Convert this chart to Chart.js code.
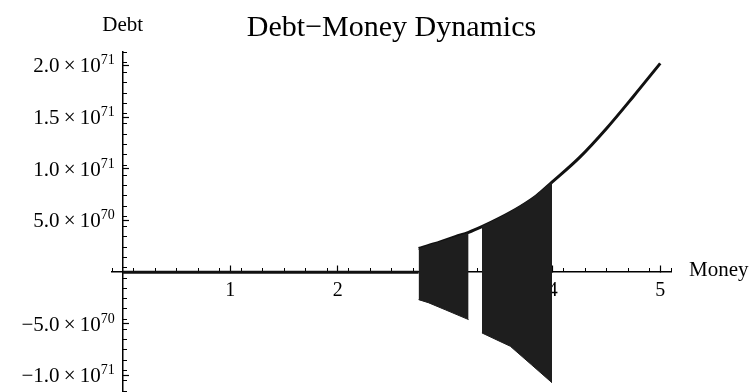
<!DOCTYPE html>
<html>
<head>
<meta charset="utf-8">
<title>Debt−Money Dynamics</title>
<script src="https://cdn.jsdelivr.net/npm/chart.js@4.4.1/dist/chart.umd.min.js"></script>
<style>
  html, body { margin: 0; padding: 0; background: #fff; }
  #wrap { width: 754px; height: 392px; }
</style>
</head>
<body>
<div id="wrap"><canvas id="chart-debt-money"></canvas></div>
<script>
// flat part of the trajectory, sitting on the axis
const moneyFlat = [0, 0.5, 1, 1.5, 2, 2.5, 2.752];
const debtFlat = [0, 0, 0, 0, 0, 0, 0];

// upper envelope of the oscillation
const moneyUpper = [2.752, 2.9, 3.0, 3.1, 3.217, 3.341, 3.5, 3.7, 3.85, 3.993, 4.25, 4.5, 4.75, 5.0];
const debtUpper = [2.3e70, 2.75e70, 3.1e70, 3.45e70, 3.85e70, 4.4e70, 5.2e70, 6.35e70, 7.4e70, 8.7e70, 1.11e71, 1.39e71, 1.70e71, 2.02e71];

// first dense band
const moneyBand1 = [2.752, 2.842, 3.0, 3.217];
const debtBand1Top = [2.2e70, 2.55e70, 3.05e70, 3.75e70];
const debtBand1Bottom = [-2.66e70, -2.95e70, -3.64e70, -4.59e70];

// second dense band
const moneyBand2 = [3.341, 3.5, 3.605, 3.8, 3.993];
const debtBand2Top = [4.4e70, 5.2e70, 5.8e70, 7.05e70, 8.7e70];
const debtBand2Bottom = [-5.88e70, -6.66e70, -7.17e70, -8.94e70, -1.07e71];

// axis ticks
const xTickValues = [1, 2, 3, 4, 5];
const xTickLabels = ["1", "2", "3", "4", "5"];
const yTickValues = [-1.0e71, -5.0e70, 5.0e70, 1.0e71, 1.5e71, 2.0e71];
const yTickMantissas = ["−1.0", "−5.0", "5.0", "1.0", "1.5", "2.0"];
const yTickExponents = ["71", "70", "70", "71", "71", "71"];

const X_MIN = -0.1;
const X_MAX = 5.1;
const Y_MIN = -1.15e71;
const Y_MAX = 2.13e71;

const SERIF = "'Liberation Serif', 'Times New Roman', serif";
const INK = "#000";
const BAND = "#1e1e1e";

function toPoints(xs, ys) {
  return xs.map((x, i) => ({ x, y: ys[i] }));
}

// axes sit inside the plot, so their label padding must not shrink it
function dropPadding(scale) {
  scale.paddingLeft = 0;
  scale.paddingRight = 0;
  scale.paddingTop = 0;
  scale.paddingBottom = 0;
}

// y labels need a real superscript exponent, so they are drawn here
const axisLabels = {
  id: "axisLabels",
  afterDraw(chart) {
    const { ctx, scales } = chart;
    const x = scales.x;
    const y = scales.y;
    const axisX = x.getPixelForValue(0);
    ctx.save();
    ctx.fillStyle = INK;
    ctx.textBaseline = "alphabetic";
    ctx.textAlign = "left";

    y.ticks.forEach((tick, i) => {
      const py = y.getPixelForValue(tick.value);
      const base = `${yTickMantissas[i]}\u2009×\u200910`;
      ctx.font = `21px ${SERIF}`;
      const wBase = ctx.measureText(base).width;
      ctx.font = `14px ${SERIF}`;
      const wExp = ctx.measureText(yTickExponents[i]).width;
      const left = axisX - 8 - wBase - wExp;
      ctx.font = `21px ${SERIF}`;
      ctx.fillText(base, left, py + 7);
      ctx.font = `14px ${SERIF}`;
      ctx.fillText(yTickExponents[i], left + wBase, py - 1);
    });

    ctx.font = `21px ${SERIF}`;
    ctx.textBaseline = "middle";
    ctx.textAlign = "center";
    ctx.fillText("Debt", axisX, y.top - 27);
    ctx.textAlign = "left";
    ctx.fillText("Money", x.right + 18, y.getPixelForValue(0) - 2);
    ctx.restore();
  },
};

const bandStyle = {
  borderColor: BAND,
  backgroundColor: BAND,
  borderWidth: 1,
  pointRadius: 0,
  tension: 0,
};

const ctx = document.getElementById("chart-debt-money");
new Chart(ctx, {
  type: "line",
  data: {
    datasets: [
      {
        data: toPoints(moneyFlat, debtFlat),
        borderColor: "#111",
        borderWidth: 3,
        pointRadius: 0,
        fill: false,
      },
      { ...bandStyle, data: toPoints(moneyBand1, debtBand1Top), fill: "+1" },
      { ...bandStyle, data: toPoints(moneyBand1, debtBand1Bottom), fill: false },
      { ...bandStyle, data: toPoints(moneyBand2, debtBand2Top), fill: "+1" },
      { ...bandStyle, data: toPoints(moneyBand2, debtBand2Bottom), fill: false },
      {
        data: toPoints(moneyUpper, debtUpper),
        borderColor: "#111",
        borderWidth: 3,
        pointRadius: 0,
        cubicInterpolationMode: "monotone",
        fill: false,
      },
    ],
  },
  options: {
    responsive: true,
    maintainAspectRatio: false,
    animation: false,
    layout: {
      padding: { left: 112, right: 83, top: 0, bottom: 1 },
    },
    plugins: {
      legend: { display: false },
      tooltip: { enabled: false },
      title: {
        display: true,
        text: "Debt−Money Dynamics",
        fullSize: false,
        color: INK,
        font: { family: SERIF, size: 30, weight: "normal" },
        padding: { top: 10, bottom: 6 },
      },
    },
    scales: {
      x: {
        type: "linear",
        min: X_MIN,
        max: X_MAX,
        position: { y: 0 },
        z: 1,
        afterBuildTicks: (scale) => {
          scale.ticks = xTickValues.map((v) => ({ value: v }));
        },
        afterFit: dropPadding,
        grid: { drawOnChartArea: false, tickLength: -7, tickColor: INK, tickWidth: 1.2 },
        border: { color: INK, width: 1.5 },
        ticks: {
          color: INK,
          font: { family: SERIF, size: 20 },
          padding: 14,
          maxRotation: 0,
          autoSkip: false,
          callback: (value, i) => xTickLabels[i],
        },
      },
      xMinor: {
        type: "linear",
        axis: "x",
        min: X_MIN,
        max: X_MAX,
        position: { y: 0 },
        z: 1,
        afterFit: dropPadding,
        grid: { drawOnChartArea: false, tickLength: -4, tickColor: INK, tickWidth: 1 },
        border: { display: false },
        ticks: { display: false, stepSize: 0.2, includeBounds: false },
      },
      y: {
        type: "linear",
        min: Y_MIN,
        max: Y_MAX,
        position: { x: 0 },
        z: 1,
        afterBuildTicks: (scale) => {
          scale.ticks = yTickValues.map((v) => ({ value: v }));
        },
        afterFit: dropPadding,
        grid: { drawOnChartArea: false, tickLength: -7, tickColor: INK, tickWidth: 1.2 },
        border: { color: INK, width: 1.5 },
        ticks: { display: false },
      },
      yMinor: {
        type: "linear",
        axis: "y",
        min: Y_MIN,
        max: Y_MAX,
        position: { x: 0 },
        z: 1,
        afterFit: dropPadding,
        grid: { drawOnChartArea: false, tickLength: -4, tickColor: INK, tickWidth: 1 },
        border: { display: false },
        ticks: { display: false, stepSize: 1e70, includeBounds: false },
      },
    },
  },
  plugins: [axisLabels],
});
</script>
</body>
</html>
